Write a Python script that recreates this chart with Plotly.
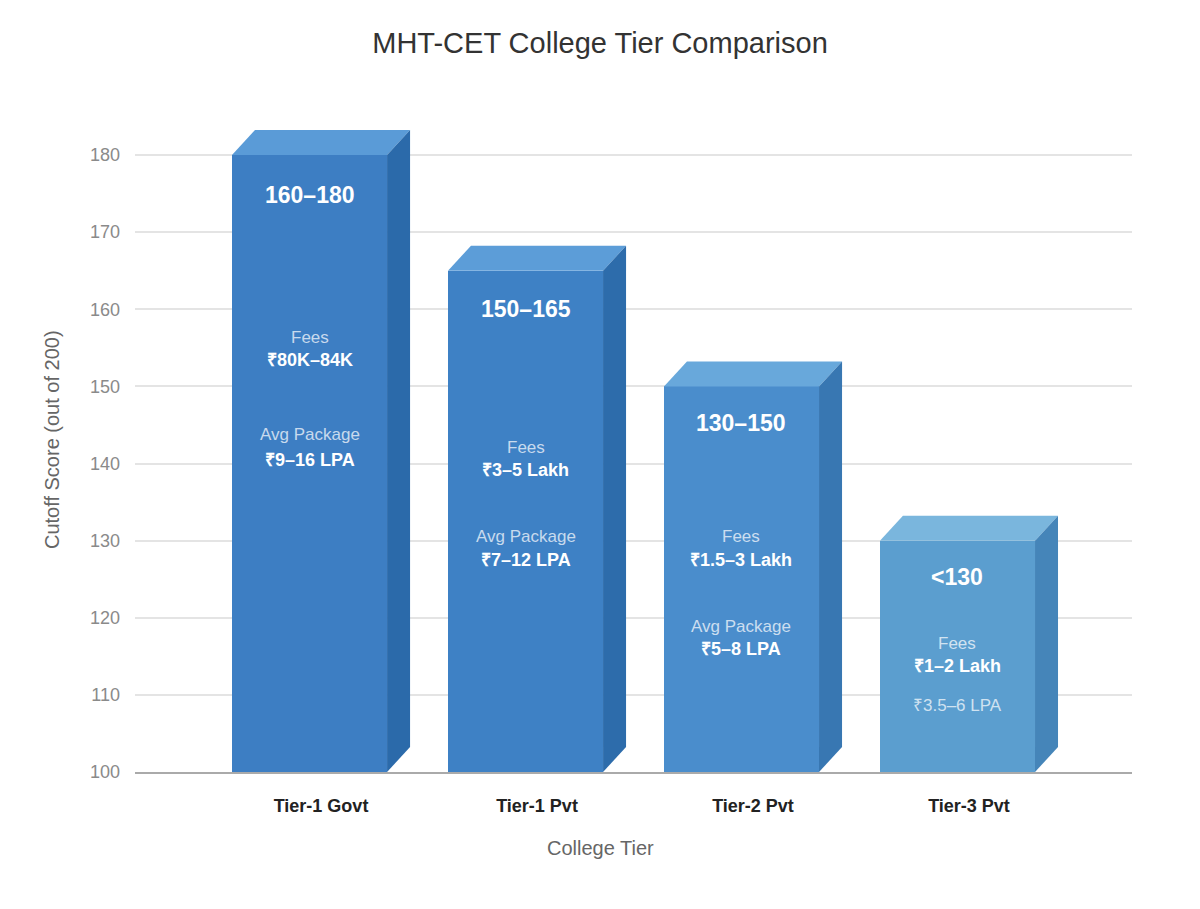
import plotly.graph_objects as go

# ---------------- data ----------------
categories = ["Tier-1 Govt", "Tier-1 Pvt", "Tier-2 Pvt", "Tier-3 Pvt"]
cutoff_upper = [180, 165, 150, 130]
score_ranges = ["160–180", "150–165", "130–150", "<130"]
fee_ranges = ["₹80K–84K", "₹3–5 Lakh", "₹1.5–3 Lakh", "₹1–2 Lakh"]
package_headers = ["Avg Package", "Avg Package", "Avg Package", ""]
package_ranges = ["₹9–16 LPA", "₹7–12 LPA", "₹5–8 LPA", "₹3.5–6 LPA"]
y_ticks = [100, 110, 120, 130, 140, 150, 160, 170, 180]

# ---------------- styles / layout constants ----------------
front_colors = ["#3D7EC3", "#3E81C5", "#4A8DCC", "#5B9ECF"]
top_colors = ["#5A9BD7", "#5C9DD8", "#68A8DB", "#7AB6DD"]
side_colors = ["#2B6AAA", "#2D6CAB", "#3877B2", "#4585B9"]

FONT = "Liberation Sans, Arial, Helvetica, sans-serif"
Y_MIN, Y_MAX = 100, 186.1
BAR_W = 0.718          # bar width in category units
DEPTH_X = 0.1065       # 3D depth offset (x units)
DEPTH_Y = 3.24         # 3D depth offset (y units)

# label positions inside bars (y in data units)
score_label_y = [174.8, 160.0, 145.3, 125.3]
fees_label_y = [156.3, 142.1, 130.5, 116.7]
fees_value_y = [153.4, 139.2, 127.5, 113.7]
pkg_label_y = [143.8, 130.5, 118.9, 0]
pkg_value_y = [140.5, 127.5, 115.9, 108.6]

xs = list(range(len(categories)))

fig = go.Figure()

# front faces
fig.add_trace(go.Bar(
    x=xs, y=[v - Y_MIN for v in cutoff_upper], base=Y_MIN,
    width=BAR_W, marker=dict(color=front_colors, line=dict(width=0)),
    hoverinfo="skip", showlegend=False,
))

# top and side faces (derived from the bar values)
for i, v in enumerate(cutoff_upper):
    x0 = xs[i] - BAR_W / 2
    x1 = xs[i] + BAR_W / 2
    fig.add_trace(go.Scatter(
        x=[x0, x0 + DEPTH_X, x1 + DEPTH_X, x1, x0],
        y=[v, v + DEPTH_Y, v + DEPTH_Y, v, v],
        fill="toself", fillcolor=top_colors[i], mode="lines",
        line=dict(width=0, color=top_colors[i]),
        hoverinfo="skip", showlegend=False,
    ))
    fig.add_trace(go.Scatter(
        x=[x1, x1 + DEPTH_X, x1 + DEPTH_X, x1, x1],
        y=[Y_MIN, Y_MIN + DEPTH_Y, v + DEPTH_Y, v, Y_MIN],
        fill="toself", fillcolor=side_colors[i], mode="lines",
        line=dict(width=0, color=side_colors[i]),
        hoverinfo="skip", showlegend=False,
    ))

annotations = []
LIGHT = "rgba(255,255,255,0.72)"
for i in xs:
    annotations.append(dict(x=xs[i], y=score_label_y[i], xref="x", yref="y",
                            text=f"<b>{score_ranges[i]}</b>", showarrow=False,
                            font=dict(family=FONT, size=23, color="white")))
    annotations.append(dict(x=xs[i], y=fees_label_y[i], xref="x", yref="y",
                            text="Fees", showarrow=False,
                            font=dict(family=FONT, size=17, color=LIGHT)))
    annotations.append(dict(x=xs[i], y=fees_value_y[i], xref="x", yref="y",
                            text=f"<b>{fee_ranges[i]}</b>", showarrow=False,
                            font=dict(family=FONT, size=18, color="white")))
    if package_headers[i]:
        annotations.append(dict(x=xs[i], y=pkg_label_y[i], xref="x", yref="y",
                                text=package_headers[i], showarrow=False,
                                font=dict(family=FONT, size=17, color=LIGHT)))
        annotations.append(dict(x=xs[i], y=pkg_value_y[i], xref="x", yref="y",
                                text=f"<b>{package_ranges[i]}</b>", showarrow=False,
                                font=dict(family=FONT, size=18, color="white")))
    else:
        annotations.append(dict(x=xs[i], y=pkg_value_y[i], xref="x", yref="y",
                                text=package_ranges[i], showarrow=False,
                                font=dict(family=FONT, size=17, color=LIGHT)))

# axis titles
annotations.append(dict(x=0.4664, y=-0.1145, xref="paper", yref="paper",
                        text="College Tier", showarrow=False,
                        xanchor="center", yanchor="middle",
                        font=dict(family=FONT, size=20, color="#666666")))
annotations.append(dict(x=-0.0832, y=0.5, xref="paper", yref="paper",
                        text="Cutoff Score (out of 200)", showarrow=False,
                        textangle=-90, xanchor="center", yanchor="middle",
                        font=dict(family=FONT, size=20, color="#666666")))

fig.update_layout(
    width=1200, height=909,
    margin=dict(l=135, r=68, t=108, b=137),
    paper_bgcolor="white", plot_bgcolor="white",
    title=dict(text="MHT-CET College Tier Comparison", x=0.5, xref="container",
               xanchor="center", y=1 - 43 / 909, yref="container", yanchor="middle",
               font=dict(family=FONT, size=29, color="#333333")),
    xaxis=dict(range=[-0.808, 3.808],
               tickvals=[x + DEPTH_X / 2 for x in xs], ticktext=[f"<b>{c}</b>" for c in categories],
               tickfont=dict(family=FONT, size=18, color="#222222"),
               showgrid=False, zeroline=False, showline=True,
               linecolor="#aaaaaa", linewidth=2, ticks="", ticklabelstandoff=16,
               fixedrange=True),
    yaxis=dict(range=[Y_MIN, Y_MAX], tickvals=y_ticks,
               tickfont=dict(family=FONT, size=18, color="#8a8a8a"),
               showgrid=True, gridcolor="#e4e4e4", gridwidth=1.5,
               zeroline=False, showline=False, ticks="", ticklabelstandoff=14,
               fixedrange=True),
    annotations=annotations,
    bargap=0,
)

fig.write_html("out.html")
